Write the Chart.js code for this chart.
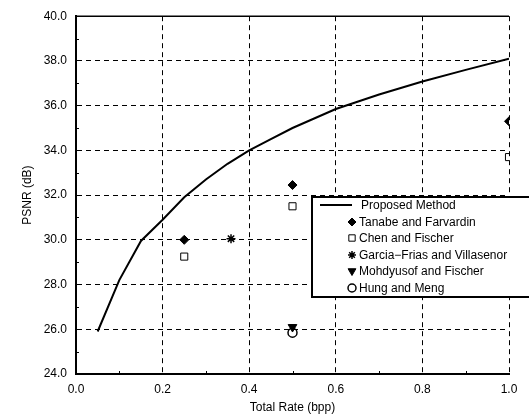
<!DOCTYPE html>
<html>
<head>
<meta charset="utf-8">
<script src="https://cdn.jsdelivr.net/npm/chart.js@4/dist/chart.umd.min.js"></script>
<style>
html,body{margin:0;padding:0;background:#fff;}
canvas{display:block;}
</style>
</head>
<body>
<canvas id="c" width="529" height="415"></canvas>
<script>
// ---- data ----
const xTicks = [0.0, 0.2, 0.4, 0.6, 0.8, 1.0];
const yTicks = [24.0, 26.0, 28.0, 30.0, 32.0, 34.0, 36.0, 38.0, 40.0];

const proposedRate = [0.05, 0.1, 0.15, 0.2, 0.25, 0.3, 0.35, 0.4, 0.45, 0.5, 0.6, 0.7, 0.8, 0.9, 1.0];
const proposedPsnr = [25.9, 28.2, 29.95, 30.9, 31.9, 32.7, 33.4, 34.0, 34.5, 35.0, 35.85, 36.5, 37.08, 37.6, 38.1];

const tanabeRate = [0.25, 0.5, 1.0];
const tanabePsnr = [30.0, 32.45, 35.3];

const chenRate = [0.25, 0.5, 1.0];
const chenPsnr = [29.25, 31.5, 33.7];

const garciaRate = [0.358];
const garciaPsnr = [30.05];

const mohdRate = [0.5];
const mohdPsnr = [26.1];

const hungRate = [0.5];
const hungPsnr = [25.85];

const seriesNames = ['Proposed Method', 'Tanabe and Farvardin', 'Chen and Fischer',
  'Garcia\u2212Frias and Villasenor', 'Mohdyusof and Fischer', 'Hung and Meng'];

function pts(xs, ys) { return xs.map((x, i) => ({x: x, y: ys[i]})); }

const FONT = {family: '"Liberation Sans", Arial, Helvetica, sans-serif', size: 12};

const markerStyles = [
  null,
  {pointStyle: 'rectRot', radius: 4.5, rotation: 0, borderWidth: 1, fill: '#000'},
  {pointStyle: 'rect', radius: 5, rotation: 0, borderWidth: 1, fill: 'rgba(0,0,0,0)'},
  {pointStyle: 'star', radius: 4.5, rotation: 0, borderWidth: 1.5, fill: 'rgba(0,0,0,0)'},
  {pointStyle: 'triangle', radius: 5, rotation: 180, borderWidth: 1, fill: '#000'},
  {pointStyle: 'circle', radius: 4.5, rotation: 0, borderWidth: 1.5, fill: 'rgba(0,0,0,0)'}
];

function markerDataset(i, data) {
  const m = markerStyles[i];
  return {
    label: seriesNames[i], data: data, showLine: false,
    pointStyle: m.pointStyle, pointRadius: m.radius, pointRotation: m.rotation,
    pointBorderWidth: m.borderWidth, pointBackgroundColor: m.fill,
    pointBorderColor: '#000', pointHoverRadius: m.radius
  };
}

// minor ticks + top frame
const framePlugin = {
  id: 'frame',
  afterDatasetsDraw(chart) {
    const {ctx, chartArea: a, scales} = chart;
    ctx.save();
    ctx.strokeStyle = '#000';
    ctx.lineWidth = 1.5;
    ctx.beginPath();
    ctx.moveTo(a.left, a.top); ctx.lineTo(a.right, a.top);
    ctx.stroke();
    ctx.lineWidth = 1;
    ctx.beginPath();
    for (let v = 0.1; v < 1.0; v += 0.2) {
      const px = Math.round(scales.x.getPixelForValue(v)) + 0.5;
      ctx.moveTo(px, a.bottom); ctx.lineTo(px, a.bottom - 3);
    }
    for (let v = 25; v < 40; v += 2) {
      const py = Math.round(scales.y.getPixelForValue(v)) + 0.5;
      ctx.moveTo(a.left, py); ctx.lineTo(a.left + 3, py);
    }
    ctx.stroke();
    ctx.restore();
  }
};

// legend box drawn at fixed place inside the plot
const legendPlugin = {
  id: 'boxLegend',
  afterDraw(chart) {
    const ctx = chart.ctx;
    const bx = 312, by = 197, bw = 240, bh = 100;
    ctx.save();
    ctx.fillStyle = '#fff';
    ctx.fillRect(bx, by, bw, bh);
    ctx.strokeStyle = '#000';
    ctx.lineWidth = 2;
    ctx.strokeRect(bx, by, bw, bh);
    ctx.font = FONT.size + 'px ' + FONT.family;
    ctx.textBaseline = 'middle';
    ctx.textAlign = 'left';
    const rowY = [205, 222, 238, 255, 271, 288];
    // line sample
    ctx.lineWidth = 2;
    ctx.beginPath();
    ctx.moveTo(320, rowY[0]); ctx.lineTo(352, rowY[0]);
    ctx.stroke();
    ctx.fillStyle = '#000';
    ctx.fillText(seriesNames[0], 361, rowY[0] + 0.5);
    for (let i = 1; i < seriesNames.length; i++) {
      const m = markerStyles[i];
      ctx.save();
      ctx.fillStyle = m.fill;
      ctx.strokeStyle = '#000';
      ctx.lineWidth = m.borderWidth;
      Chart.helpers.drawPoint(ctx, {pointStyle: m.pointStyle, radius: m.radius - 0.5,
        rotation: m.rotation, borderWidth: m.borderWidth}, 352, rowY[i]);
      ctx.restore();
      ctx.fillStyle = '#000';
      ctx.fillText(seriesNames[i], 359, rowY[i] + 0.5);
    }
    ctx.restore();
  }
};

new Chart(document.getElementById('c'), {
  type: 'scatter',
  data: {
    datasets: [
      {label: seriesNames[0], data: pts(proposedRate, proposedPsnr), showLine: true,
       borderColor: '#000', borderWidth: 2, pointRadius: 0, tension: 0, fill: false},
      markerDataset(1, pts(tanabeRate, tanabePsnr)),
      markerDataset(2, pts(chenRate, chenPsnr)),
      markerDataset(3, pts(garciaRate, garciaPsnr)),
      markerDataset(4, pts(mohdRate, mohdPsnr)),
      markerDataset(5, pts(hungRate, hungPsnr))
    ]
  },
  options: {
    responsive: false,
    animation: false,
    devicePixelRatio: 1,
    layout: {padding: {left: 0, top: 12, right: 20, bottom: 0}},
    plugins: {legend: {display: false}, tooltip: {enabled: false}},
    scales: {
      x: {
        type: 'linear', min: 0, max: 1,
        afterFit(s) { s.height = 41; },
        afterBuildTicks(s) { s.ticks = xTicks.map(v => ({value: v})); },
        ticks: {color: '#000', font: FONT, padding: 8, maxRotation: 0,
                callback: v => Number(v).toFixed(1)},
        grid: {color: '#000', lineWidth: 1, drawTicks: false},
        border: {display: true, color: '#000', width: 2, dash: [5, 4]},
        title: {display: true, text: 'Total Rate (bpp)', color: '#000', font: FONT,
                padding: {top: 6, bottom: 0}}
      },
      y: {
        type: 'linear', min: 24, max: 40,
        afterFit(s) { s.width = 76; },
        afterBuildTicks(s) { s.ticks = yTicks.map(v => ({value: v})); },
        ticks: {color: '#000', font: FONT, padding: 9,
                callback: v => Number(v).toFixed(1)},
        grid: {color: '#000', lineWidth: 1, drawTicks: false},
        border: {display: true, color: '#000', width: 2, dash: [5, 4]},
        title: {display: true, text: 'PSNR (dB)', color: '#000', font: FONT,
                padding: {top: 20, bottom: 0}}
      }
    }
  },
  plugins: [framePlugin, legendPlugin]
});
</script>
</body>
</html>
